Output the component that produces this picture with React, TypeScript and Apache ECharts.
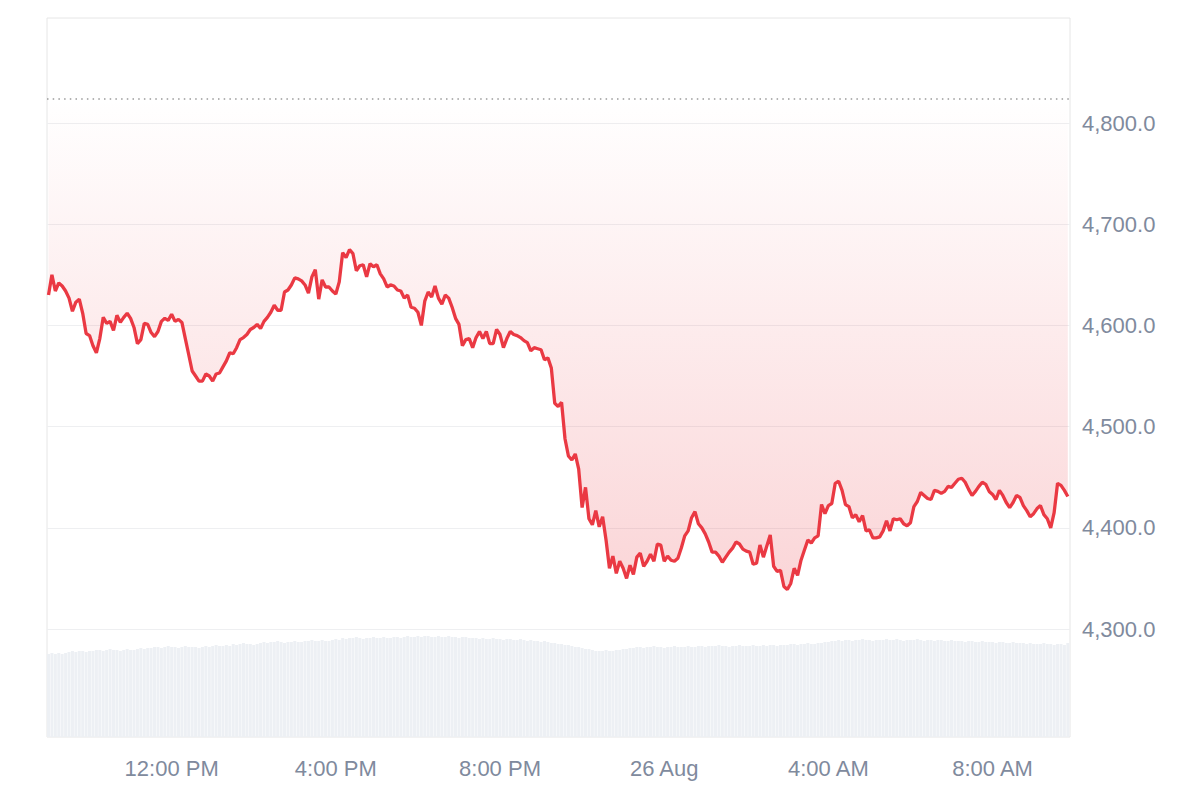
import React, { useEffect, useRef } from "react";
import * as echarts from "echarts";

// 5-minute samples from 25 Aug 09:00 to 26 Aug 09:50
const startTime = new Date(2025, 7, 25, 9, 0).getTime();
const stepMs = 5 * 60 * 1000;
const axisEndMinutes = 1491;

const prices: number[] = [
  4630, 4650, 4634, 4642, 4639, 4634, 4627, 4614, 4623, 4626,
  4612, 4592, 4590, 4580, 4573, 4587, 4608, 4602, 4604, 4595,
  4610, 4603, 4608, 4612, 4607, 4598, 4582, 4586, 4602, 4601,
  4593, 4589, 4594, 4604, 4607, 4605, 4611, 4604, 4606, 4603,
  4587, 4571, 4555, 4550, 4545, 4545, 4552, 4550, 4545, 4552,
  4553, 4559, 4565, 4573, 4572, 4578, 4586, 4588, 4591, 4596,
  4598, 4601, 4597, 4604, 4608, 4613, 4620, 4615, 4615, 4633,
  4635, 4640, 4647, 4646, 4644, 4640, 4632, 4648, 4655, 4626,
  4645, 4638, 4638, 4634, 4631, 4643, 4672, 4667, 4675, 4671,
  4654, 4659, 4660, 4648, 4661, 4658, 4660, 4651, 4646, 4638,
  4640, 4639, 4635, 4634, 4627, 4630, 4618, 4617, 4613, 4600,
  4624, 4633, 4628, 4639, 4627, 4621, 4630, 4627, 4618, 4607,
  4601, 4580, 4586, 4587, 4578, 4588, 4594, 4587, 4594, 4582,
  4582, 4596, 4591, 4578, 4587, 4594, 4591, 4590, 4588, 4585,
  4583, 4575, 4578, 4577, 4576, 4566, 4568, 4558, 4523, 4520,
  4524, 4488, 4471, 4467, 4473, 4458, 4420, 4440, 4409, 4403,
  4417, 4401, 4411, 4388, 4360, 4372, 4355, 4367, 4360, 4350,
  4363, 4354, 4371, 4375, 4362, 4367, 4374, 4367, 4384, 4383,
  4367, 4372, 4368, 4367, 4370, 4380, 4392, 4397, 4410, 4416,
  4404, 4400, 4394, 4386, 4376, 4376, 4372, 4366, 4371, 4376,
  4380, 4386, 4384, 4379, 4377, 4376, 4364, 4365, 4383, 4371,
  4382, 4393, 4362, 4357, 4358, 4342, 4339, 4345, 4360, 4353,
  4368, 4378, 4388, 4385, 4390, 4392, 4423, 4414, 4422, 4424,
  4444, 4446, 4437, 4423, 4421, 4410, 4413, 4406, 4412, 4397,
  4398, 4390, 4390, 4391, 4397, 4407, 4397, 4409, 4408, 4409,
  4404, 4402, 4405, 4421, 4426, 4435, 4432, 4429, 4428, 4437,
  4436, 4434, 4436, 4441, 4440, 4444, 4448, 4449, 4445, 4438,
  4432, 4436, 4441, 4445, 4443, 4436, 4433, 4428, 4437, 4432,
  4425, 4420, 4425, 4432, 4430, 4422, 4417, 4411, 4414, 4419,
  4422, 4413, 4409, 4400, 4415, 4444, 4442, 4437, 4431,
];

// volume (billions)
const volumes: number[] = [
  8.3, 8.4, 8.3, 8.4, 8.3, 8.4,
  8.5, 8.6, 8.5, 8.6, 8.6, 8.5, 8.6,
  8.6, 8.7, 8.7, 8.6, 8.7, 8.8, 8.7, 8.7, 8.6, 8.7, 8.8, 8.7, 8.7,
  8.8, 8.9, 8.8, 8.9, 8.9,
  9.0, 9.0, 8.9, 9.0, 9.1, 9.0, 9.0, 8.9, 9.0, 9.1, 9.0, 9.0, 9.0, 8.9, 9.0,
  9.1, 9.0, 9.1, 9.2, 9.1, 9.1, 9.2, 9.1,
  9.3, 9.2, 9.3, 9.4, 9.3, 9.3, 9.2, 9.3, 9.4,
  9.5, 9.4, 9.5, 9.5, 9.6, 9.5, 9.4, 9.5, 9.5, 9.6, 9.5, 9.5, 9.6,
  9.6, 9.7, 9.6, 9.6, 9.7, 9.6, 9.6, 9.7, 9.8, 9.7,
  9.9, 9.8, 9.9, 9.9, 10.0, 9.9, 9.8, 9.9, 9.9, 10.0, 9.9, 9.9, 10.0, 9.9, 9.9, 10.0, 10.0, 9.9,
  10.0, 10.1, 10.0, 10.0, 10.1, 10.0, 10.1, 10.1, 10.0, 10.0, 10.1, 10.0, 10.0, 10.1, 10.0, 10.0, 9.9, 10.0, 10.0, 9.9, 9.9,
  9.9, 9.8, 9.9, 9.8, 9.8, 9.9, 9.8, 9.8, 9.7, 9.8, 9.8, 9.7, 9.7, 9.8, 9.7, 9.6, 9.7, 9.6, 9.6, 9.5, 9.6,
  9.5, 9.4, 9.4, 9.3, 9.3, 9.2, 9.2, 9.1, 9.0, 9.0, 8.9, 8.8, 8.8,
  8.7, 8.6, 8.6, 8.6, 8.7, 8.6, 8.6, 8.7, 8.7, 8.8, 8.8, 8.9,
  8.9, 9.0, 9.0, 8.9, 9.0, 9.0, 9.1, 9.0, 9.0, 8.9, 9.0, 9.0, 9.1, 9.0, 9.0, 9.0, 9.1, 9.0, 9.0, 9.1,
  9.1, 9.0, 9.1, 9.1, 9.1, 9.2, 9.1, 9.1, 9.0, 9.1, 9.1, 9.2, 9.1, 9.1, 9.1, 9.2, 9.1, 9.1, 9.2, 9.1, 9.2, 9.2, 9.1, 9.2, 9.2,
  9.2, 9.3, 9.3, 9.2, 9.3, 9.3, 9.4, 9.3, 9.3, 9.4, 9.4, 9.5, 9.5, 9.6, 9.6,
  9.7, 9.6, 9.7, 9.7, 9.6, 9.7, 9.7, 9.8, 9.7, 9.7, 9.6, 9.7, 9.7, 9.7, 9.8, 9.7, 9.7, 9.8, 9.7, 9.6, 9.7, 9.7, 9.7, 9.8, 9.7, 9.6, 9.7, 9.7, 9.6, 9.7, 9.7, 9.6, 9.6, 9.7, 9.6,
  9.6, 9.6, 9.5, 9.6, 9.6, 9.5, 9.5, 9.6, 9.5, 9.5, 9.5, 9.4, 9.5, 9.5, 9.4, 9.4, 9.5, 9.4, 9.4, 9.4,
  9.3, 9.4, 9.3, 9.3, 9.3, 9.4, 9.3, 9.3, 9.2, 9.3, 9.3, 9.2,
  9.4,
];

const priceTicks: number[] = [4300, 4400, 4500, 4600, 4700, 4800];
const referencePrice = 4824;
const priceMin = 4193.3;
const priceMax = 4903.8;
const volumeMax = 71.9;

const monthNames = ["Jan", "Feb", "Mar", "Apr", "May", "Jun", "Jul", "Aug", "Sep", "Oct", "Nov", "Dec"];

const FONT = "'Liberation Sans', Arial, Helvetica, sans-serif";
const LABEL_COLOR = "#808a9d";

function formatTime(value: number): string {
  const d = new Date(value);
  const h = d.getHours();
  const m = d.getMinutes();
  if (h === 0 && m === 0) return `${d.getDate()} ${monthNames[d.getMonth()]}`;
  const hh = h % 12 === 0 ? 12 : h % 12;
  const ampm = h < 12 ? "AM" : "PM";
  return `${hh}:${m < 10 ? "0" + m : m} ${ampm}`;
}

export default function App() {
  const ref = useRef<HTMLDivElement>(null);

  useEffect(() => {
    if (!ref.current) return;
    const chart = echarts.init(ref.current, undefined, { renderer: "svg" });
    const times = prices.map((_, i) => startTime + i * stepMs);
    const priceData = times.map((t, i) => [t, prices[i]]);
    const bandData = times.map((t, i) => [t, referencePrice - prices[i]]);
    const volumeData = times.map((t, i) => [t, volumes[i]]);

    chart.setOption({
      animation: false,
      backgroundColor: "#ffffff",
      grid: {
        left: 47,
        right: 130,
        top: 18,
        bottom: 63,
        show: true,
        borderColor: "#e6e6e6",
        borderWidth: 1,
        backgroundColor: "transparent",
      },
      xAxis: {
        type: "time",
        min: startTime,
        max: startTime + axisEndMinutes * 60 * 1000,
        minInterval: 4 * 3600 * 1000,
        maxInterval: 4 * 3600 * 1000,
        axisLine: { show: false },
        axisTick: { show: false },
        splitLine: { show: false },
        axisLabel: {
          show: true,
          color: LABEL_COLOR,
          fontSize: 22,
          fontFamily: FONT,
          margin: 20,
          showMinLabel: false,
          showMaxLabel: false,
          formatter: (v: number) => formatTime(v),
        },
      },
      yAxis: [
        {
          type: "value",
          position: "right",
          min: priceMin,
          max: priceMax,
          axisLine: { show: false },
          axisTick: { show: false, customValues: priceTicks },
          splitLine: { show: true, lineStyle: { color: "#eeeff1", width: 1 } },
          axisLabel: {
            customValues: priceTicks,
            color: LABEL_COLOR,
            fontSize: 22,
            fontFamily: FONT,
            margin: 12,
            formatter: (v: number) =>
              v.toLocaleString("en-US", { minimumFractionDigits: 1, maximumFractionDigits: 1 }),
          },
        },
        {
          type: "value",
          min: 0,
          max: volumeMax,
          show: false,
          splitLine: { show: false },
        },
      ],
      series: [
        {
          name: "Volume",
          type: "bar",
          yAxisIndex: 1,
          data: volumeData,
          barWidth: 3,
          itemStyle: { color: "#edf0f4" },
          silent: true,
          z: 1,
        },
        {
          name: "base",
          type: "line",
          stack: "fill",
          data: priceData,
          symbol: "none",
          lineStyle: { opacity: 0 },
          silent: true,
          z: 2,
        },
        {
          name: "band",
          type: "line",
          stack: "fill",
          data: bandData,
          symbol: "none",
          lineStyle: { opacity: 0 },
          areaStyle: {
            color: new echarts.graphic.LinearGradient(0, 0, 0, 1, [
              { offset: 0, color: "rgba(234,57,67,0)" },
              { offset: 1, color: "rgba(234,57,67,0.3)" },
            ]),
          },
          silent: true,
          z: 2,
        },
        {
          name: "Price",
          type: "line",
          data: priceData,
          symbol: "none",
          lineStyle: { color: "#ea3943", width: 3.3 },
          itemStyle: { color: "#ea3943" },
          z: 4,
          markLine: {
            silent: true,
            symbol: ["none", "none"],
            label: { show: false },
            lineStyle: { color: "#9a9a9a", width: 1.5, type: [1.5, 4.2] },
            data: [{ yAxis: referencePrice }],
          },
        },
      ],
    });
    return () => chart.dispose();
  }, []);

  return (
    <div
      ref={ref}
      style={{ position: "absolute", left: 0, top: 0, width: 1200, height: 800 }}
    />
  );
}
